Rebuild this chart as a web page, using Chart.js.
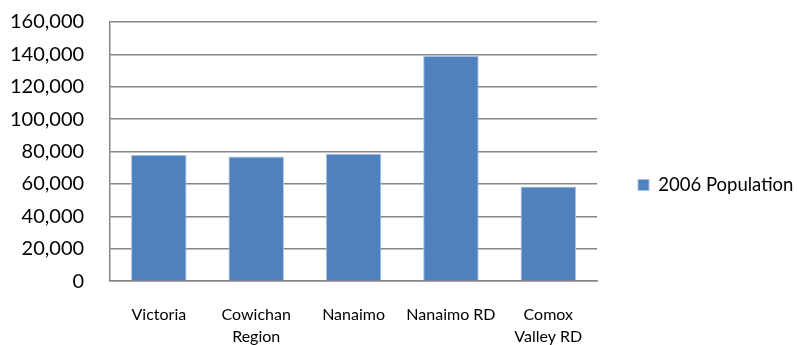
<!DOCTYPE html>
<html>
<head>
<meta charset="utf-8">
<script src="https://cdn.jsdelivr.net/npm/chart.js@4/dist/chart.umd.min.js"></script>
<style>
  html, body { margin: 0; padding: 0; background: #fff; overflow: hidden; }
  #wrap { width: 797px; height: 370px; }
</style>
</head>
<body>
<div id="wrap"><canvas id="popChart" width="797" height="370"></canvas></div>
<script>
// Chart data
var categories = [['Victoria'], ['Cowichan', 'Region'], ['Nanaimo'], ['Nanaimo RD'], ['Comox', 'Valley RD']];
var population2006 = [78100, 76900, 78700, 139000, 58500];
var seriesLabel = '2006 Population';
var yMax = 160000;
var yStep = 20000;

// widen the legend box so the plot ends where the original does
var legendWidth = {
    id: 'legendWidth',
    beforeInit: function(chart) {
        var fit = chart.legend.fit;
        chart.legend.fit = function() {
            fit.bind(this)();
            this.width = 200;
        };
    }
};

var ctx = document.getElementById('popChart').getContext('2d');
var popChart = new Chart(ctx, {
    type: 'bar',
    data: {
        labels: categories,
        datasets: [{
            label: seriesLabel,
            data: population2006,
            backgroundColor: '#4F81BD',
            borderColor: '#A9C1DF',
            borderWidth: 1,
            categoryPercentage: 1,
            barPercentage: 0.57
        }]
    },
    options: {
        responsive: false,
        animation: false,
        layout: { padding: { top: 0, left: 0, right: 0, bottom: 0 } },
        plugins: {
            tooltip: { enabled: false },
            legend: {
                position: 'right',
                labels: {
                    boxWidth: 11,
                    boxHeight: 11,
                    padding: 41,
                    color: '#000',
                    font: { family: 'Lato', size: 18.5 }
                }
            }
        },
        scales: {
            x: {
                grid: { display: false, drawTicks: false },
                border: { color: '#868686', width: 1.5 },
                ticks: {
                    color: '#000',
                    padding: 22,
                    maxRotation: 0,
                    autoSkip: false,
                    font: { family: 'Lato', size: 16, lineHeight: 1.4 }
                }
            },
            y: {
                min: 0,
                max: yMax,
                grid: { color: '#868686', lineWidth: 1.5, drawTicks: true, tickLength: 16, tickColor: 'rgba(0,0,0,0)' },
                border: { color: '#868686', width: 1.5 },
                ticks: {
                    stepSize: yStep,
                    autoSkip: false,
                    color: '#000',
                    padding: 10,
                    font: { family: 'Lato', size: 20 },
                    callback: function(v) { return v.toLocaleString('en-US'); }
                }
            }
        }
    },
    plugins: [legendWidth]
});
</script>
</body>
</html>
